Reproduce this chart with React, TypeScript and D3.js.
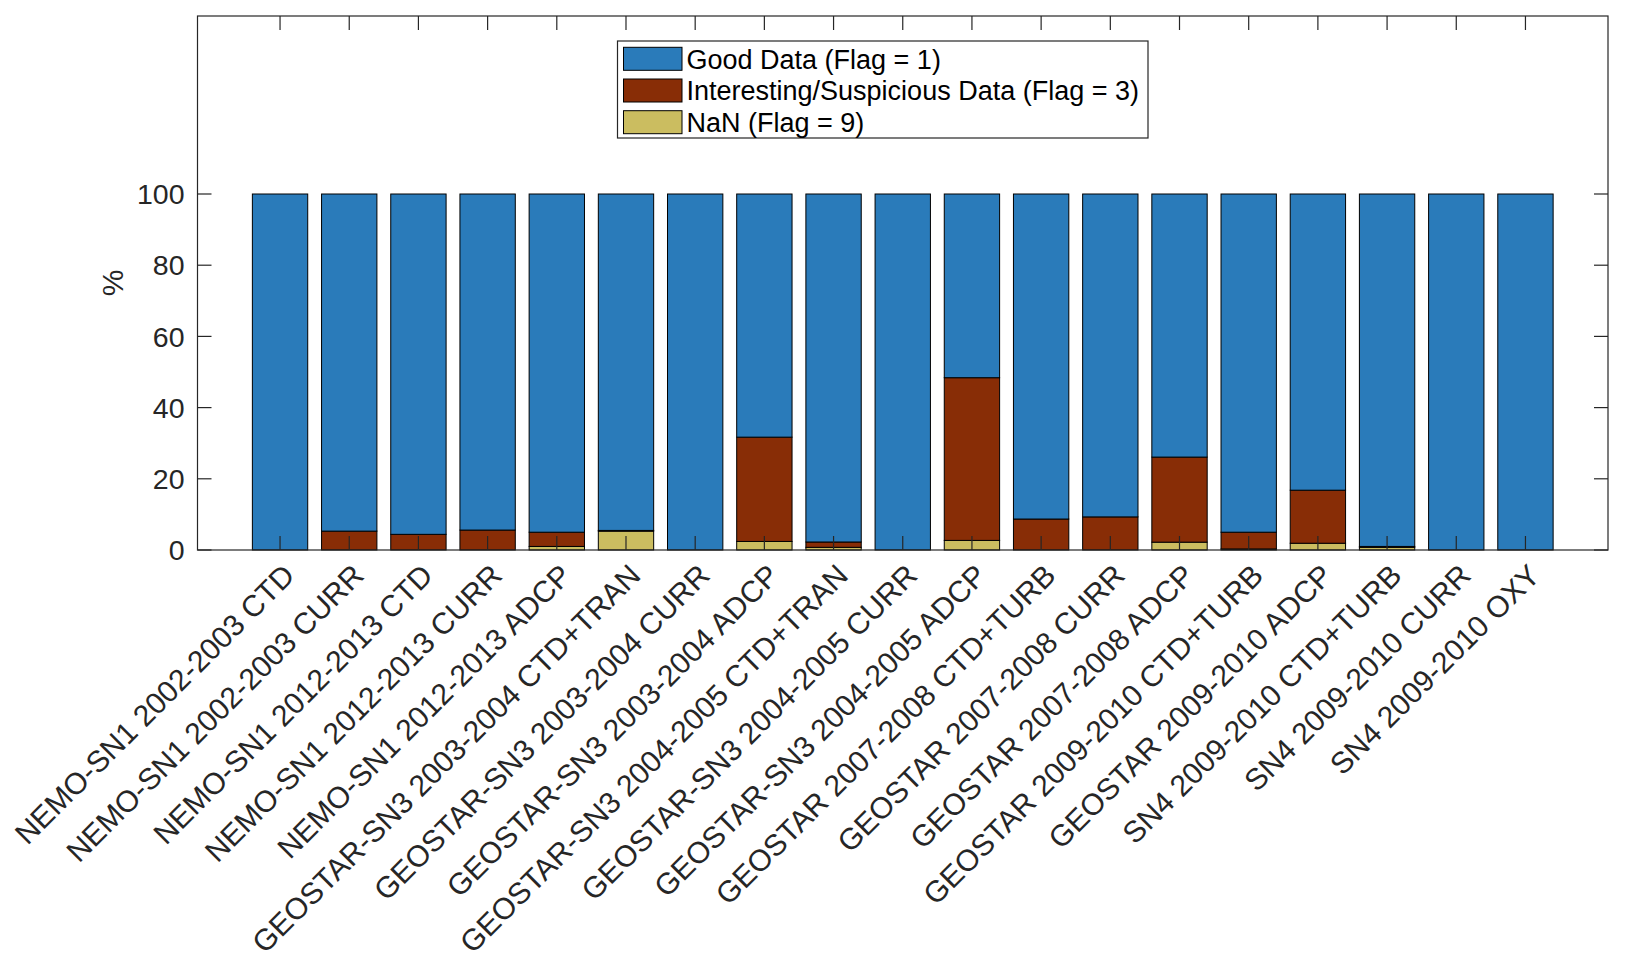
import React from 'react';
import * as d3 from 'd3';

// Stations / deployments along the x axis
const categories = [
  'NEMO-SN1 2002-2003 CTD',
  'NEMO-SN1 2002-2003 CURR',
  'NEMO-SN1 2012-2013 CTD',
  'NEMO-SN1 2012-2013 CURR',
  'NEMO-SN1 2012-2013 ADCP',
  'GEOSTAR-SN3 2003-2004 CTD+TRAN',
  'GEOSTAR-SN3 2003-2004 CURR',
  'GEOSTAR-SN3 2003-2004 ADCP',
  'GEOSTAR-SN3 2004-2005 CTD+TRAN',
  'GEOSTAR-SN3 2004-2005 CURR',
  'GEOSTAR-SN3 2004-2005 ADCP',
  'GEOSTAR 2007-2008 CTD+TURB',
  'GEOSTAR 2007-2008 CURR',
  'GEOSTAR 2007-2008 ADCP',
  'GEOSTAR 2009-2010 CTD+TURB',
  'GEOSTAR 2009-2010 ADCP',
  'SN4 2009-2010 CTD+TURB',
  'SN4 2009-2010 CURR',
  'SN4 2009-2010 OXY',
];

// % of samples per flag (stack order: NaN at the bottom, then flag 3, then flag 1)
const nanPct = [0, 0, 0, 0, 1.0, 5.3, 0, 2.4, 0.75, 0, 2.7, 0, 0, 2.2, 0.3, 1.9, 0.75, 0, 0];
const suspiciousPct = [0, 5.3, 4.4, 5.6, 4.0, 0.2, 0, 29.3, 1.5, 0, 45.7, 8.7, 9.3, 23.9, 4.7, 14.9, 0.25, 0, 0];
const goodPct = [100, 94.7, 95.6, 94.4, 95.0, 94.5, 100, 68.3, 97.75, 100, 51.6, 91.3, 90.7, 73.9, 95.0, 83.2, 99.0, 100, 100];

const yTicks = [0, 20, 40, 60, 80, 100];

const series = [
  { key: 'nan', label: 'NaN (Flag = 9)', values: nanPct, color: '#CBBD60' },
  { key: 'sus', label: 'Interesting/Suspicious Data (Flag = 3)', values: suspiciousPct, color: '#882D06' },
  { key: 'good', label: 'Good Data (Flag = 1)', values: goodPct, color: '#2A7BBA' },
];
const legendOrder = ['good', 'sus', 'nan'];

const W = 1625;
const H = 972;
const plot = { left: 197.5, right: 1608, top: 16, bottom: 550 };
const font = '"Liberation Sans", Arial, Helvetica, sans-serif';
const axisColor = '#262626';
const tickLen = 14;

export default function App() {
  const x = d3
    .scaleLinear()
    .domain([-0.193, categories.length + 1.193])
    .range([plot.left, plot.right]);
  const y = d3.scaleLinear().domain([0, 150]).range([plot.bottom, plot.top]);
  const barW = (x(1) - x(0)) * 0.8;

  // build stacks
  const stacks = categories.map((_, i) => {
    let base = 0;
    return series.map(s => {
      const y0 = base;
      base += s.values[i];
      return { key: s.key, color: s.color, y0, y1: base };
    });
  });

  const legend = { x: 617.5, y: 41, w: 530.5, h: 97 };

  return (
    <div style={{ position: 'absolute', left: 0, top: 0 }}>
      <svg width={W} height={H} style={{ display: 'block', background: '#fff' }}>
        {/* bars */}
        {stacks.map((stack, i) => (
          <g key={categories[i]}>
            {stack
              .filter(seg => seg.y1 - seg.y0 > 0)
              .map(seg => (
                <rect
                  key={seg.key}
                  x={x(i + 1) - barW / 2}
                  y={y(seg.y1)}
                  width={barW}
                  height={y(seg.y0) - y(seg.y1)}
                  fill={seg.color}
                  stroke="#000"
                  strokeWidth={1}
                />
              ))}
          </g>
        ))}

        {/* axes box */}
        <rect
          x={plot.left}
          y={plot.top}
          width={plot.right - plot.left}
          height={plot.bottom - plot.top}
          fill="none"
          stroke={axisColor}
          strokeWidth={1.2}
        />

        {/* x ticks (bottom + top) */}
        {categories.map((c, i) => (
          <g key={'xt' + c} stroke={axisColor} strokeWidth={1.2}>
            <line x1={x(i + 1)} x2={x(i + 1)} y1={plot.bottom} y2={plot.bottom - tickLen} />
            <line x1={x(i + 1)} x2={x(i + 1)} y1={plot.top} y2={plot.top + tickLen} />
          </g>
        ))}

        {/* y ticks (left + right) */}
        {yTicks.map(t => (
          <g key={'yt' + t}>
            <line x1={plot.left} x2={plot.left + tickLen} y1={y(t)} y2={y(t)} stroke={axisColor} strokeWidth={1.2} />
            <line x1={plot.right} x2={plot.right - tickLen} y1={y(t)} y2={y(t)} stroke={axisColor} strokeWidth={1.2} />
            <text
              x={plot.left - 13}
              y={y(t)}
              dy="0.36em"
              textAnchor="end"
              fontFamily={font}
              fontSize={28.5}
              fill={axisColor}
            >
              {t}
            </text>
          </g>
        ))}

        {/* y label */}
        <text
          transform={`translate(${112},${(plot.top + plot.bottom) / 2}) rotate(-90)`}
          textAnchor="middle"
          dy="0.36em"
          fontFamily={font}
          fontSize={30}
          fill={axisColor}
        >
          %
        </text>

        {/* x labels */}
        {categories.map((c, i) => (
          <text
            key={'xl' + c}
            transform={`translate(${x(i + 1) + 1},${plot.bottom + 12}) rotate(-45)`}
            textAnchor="end"
            dy="0.72em"
            fontFamily={font}
            fontSize={30}
            fill={axisColor}
          >
            {c}
          </text>
        ))}

        {/* legend */}
        <g>
          <rect
            x={legend.x}
            y={legend.y}
            width={legend.w}
            height={legend.h}
            fill="#fff"
            stroke={axisColor}
            strokeWidth={1.2}
          />
          {legendOrder.map((k, j) => {
            const s = series.find(d => d.key === k)!;
            const rowY = legend.y + 17.8 + j * 31.7;
            return (
              <g key={'lg' + k}>
                <rect
                  x={legend.x + 6}
                  y={rowY - 11.5}
                  width={58.5}
                  height={23}
                  fill={s.color}
                  stroke="#000"
                  strokeWidth={1}
                />
                <text
                  x={legend.x + 69}
                  y={rowY}
                  dy="0.36em"
                  fontFamily={font}
                  fontSize={27}
                  fill="#000"
                >
                  {s.label}
                </text>
              </g>
            );
          })}
        </g>
      </svg>
    </div>
  );
}
